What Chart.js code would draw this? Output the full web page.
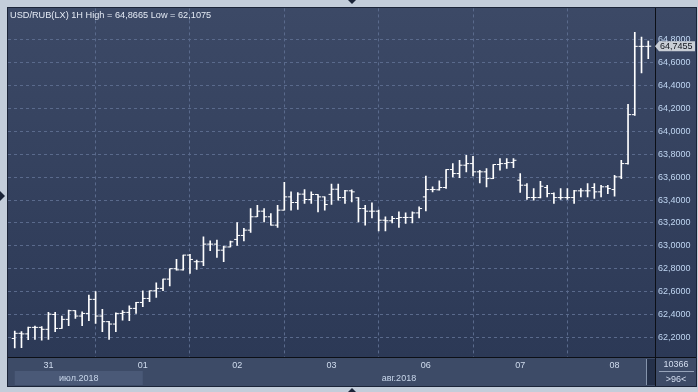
<!DOCTYPE html>
<html><head><meta charset="utf-8">
<script src="https://cdn.jsdelivr.net/npm/chart.js@4.4.1/dist/chart.umd.min.js"></script>
<style>html,body{margin:0;padding:0;background:#c3cdda;overflow:hidden}canvas{display:block}</style>
</head><body>
<canvas id="c" width="698" height="392"></canvas>
<script>
const titleText = 'USD/RUB(LX) 1H High = 64,8665 Low = 62,1075';
const opens = [62.19,62.235,62.23,62.287,62.287,62.27,62.40,62.278,62.357,62.433,
62.386,62.409,62.532,62.386,62.337,62.316,62.409,62.418,62.453,62.505,
62.54,62.607,62.628,62.709,62.80,62.79,62.919,62.861,62.861,63.015,
63.015,62.962,62.99,63.056,63.091,63.137,63.254,63.303,63.254,63.181,
63.312,63.428,63.379,63.452,63.405,63.449,63.428,63.45,63.495,63.422,
63.481,63.42,63.326,63.303,63.303,63.224,63.219,63.239,63.248,63.248,
63.288,63.428,63.492,63.49,63.51,63.667,63.632,63.705,63.719,63.647,
63.647,63.588,63.711,63.719,63.728,63.574,63.53,63.422,63.422,63.51,
63.457,63.422,63.422,63.422,63.481,63.481,63.51,63.472,63.516,63.492,
63.603,63.719,64.147,64.744,64.744];
const highs = [62.255,62.25,62.29,62.299,62.293,62.418,62.418,62.386,62.438,62.433,
62.424,62.569,62.599,62.444,62.34,62.415,62.433,62.476,62.505,62.607,
62.607,62.677,62.709,62.80,62.881,62.919,62.925,62.875,63.079,63.044,
63.05,62.997,63.041,63.204,63.152,63.326,63.355,63.326,63.283,63.355,
63.556,63.472,63.466,63.492,63.472,63.449,63.428,63.539,63.539,63.486,
63.49,63.422,63.355,63.376,63.312,63.254,63.259,63.297,63.288,63.297,
63.341,63.609,63.516,63.568,63.667,63.719,63.748,63.792,63.783,63.661,
63.676,63.711,63.763,63.763,63.763,63.632,63.545,63.501,63.565,63.53,
63.463,63.501,63.501,63.486,63.501,63.545,63.545,63.53,63.53,63.617,
63.748,64.238,64.8665,64.826,64.791];
const lows = [62.1075,62.11,62.18,62.182,62.176,62.182,62.249,62.278,62.302,62.366,
62.302,62.345,62.322,62.249,62.182,62.249,62.351,62.345,62.409,62.468,
62.511,62.549,62.607,62.65,62.788,62.788,62.759,62.794,62.826,62.957,
62.898,62.861,62.99,63.003,63.044,63.117,63.254,63.21,63.181,63.16,
63.312,63.312,63.318,63.37,63.37,63.297,63.312,63.361,63.399,63.37,
63.385,63.21,63.181,63.245,63.131,63.131,63.201,63.16,63.195,63.201,
63.245,63.306,63.472,63.486,63.501,63.603,63.597,63.647,63.612,63.55,
63.516,63.588,63.661,63.676,63.684,63.466,63.405,63.399,63.42,63.428,
63.37,63.405,63.405,63.37,63.428,63.428,63.414,63.428,63.457,63.434,
63.588,63.714,64.141,64.511,64.636];
const closes = [62.235,62.23,62.287,62.287,62.27,62.403,62.278,62.357,62.433,62.386,
62.409,62.532,62.386,62.337,62.316,62.409,62.418,62.453,62.505,62.54,
62.607,62.628,62.709,62.80,62.79,62.919,62.881,62.861,63.015,63.015,
62.962,62.99,63.035,63.091,63.137,63.254,63.303,63.254,63.181,63.312,
63.428,63.379,63.452,63.405,63.449,63.428,63.361,63.495,63.422,63.481,
63.472,63.326,63.303,63.303,63.224,63.219,63.239,63.248,63.248,63.288,
63.326,63.492,63.492,63.51,63.667,63.632,63.705,63.719,63.647,63.647,
63.588,63.711,63.719,63.728,63.748,63.53,63.422,63.422,63.521,63.457,
63.422,63.422,63.422,63.481,63.481,63.481,63.472,63.516,63.501,63.603,
63.719,64.147,64.744,64.744,64.7455];
const dayStarts = [5,19,33,47,61,75,89];
const dayLabels = ['31','01','02','03','06','07','08'];
const yTicks = [62.2,62.4,62.6,62.8,63.0,63.2,63.4,63.6,63.8,64.0,64.2,64.4,64.6,64.8];
const monthLabels = ['июл.2018','авг.2018'];
const monthStarts = [0,19];
const barCountText = '10366';
const visibleText = '>96<';

const FONT = '"Liberation Sans", Arial, sans-serif';
const idx = opens.map((_, i) => i);

const decor = {
  id: 'decor',
  beforeDraw(chart) {
    const c = chart.ctx;
    c.save();
    c.fillStyle = '#c3cdda';
    c.fillRect(0, 0, 698, 392);
    c.fillStyle = '#1b2438';
    c.fillRect(7, 7, 690, 380);
    const g = c.createLinearGradient(0, 8, 0, 357);
    g.addColorStop(0, '#3c4966');
    g.addColorStop(1, '#2c3956');
    c.fillStyle = g;
    c.fillRect(8, 8, 688, 349);
    c.fillStyle = '#3d4b67';
    c.fillRect(8, 358, 688, 28);
    const xs = chart.scales.x;
    const a = xs.getPixelForValue(monthStarts[0]);
    const b = xs.getPixelForValue(monthStarts[1]);
    c.fillStyle = '#4a5977';
    c.fillRect(a, 371, b - a, 14);
    c.restore();
  },
  afterDraw(chart) {
    const c = chart.ctx;
    const xs = chart.scales.x, ys = chart.scales.y;
    c.save();
    // frame lines
    c.fillStyle = '#0c0f16';
    c.fillRect(8, 357, 688, 1);
    c.fillRect(655, 8, 1, 378);
    // scroll strip
    c.fillStyle = '#8594ac';
    c.fillRect(646, 359, 1, 26);
    c.fillStyle = '#25314a';
    c.fillRect(647, 359, 8, 26);
    // title
    c.fillStyle = '#e4eaf4';
    c.font = '9.2px ' + FONT;
    c.textBaseline = 'middle';
    c.textAlign = 'left';
    c.fillText(titleText, 10, 15);
    // month labels
    c.fillStyle = '#c8d6ea';
    c.font = '9px ' + FONT;
    c.textAlign = 'center';
    const m0 = xs.getPixelForValue(monthStarts[0]);
    const m1 = xs.getPixelForValue(monthStarts[1]);
    c.fillText(monthLabels[0], (m0 + m1) / 2, 378.5);
    c.fillText(monthLabels[1], (m1 + 655) / 2, 378.5);
    // right bottom box
    c.fillStyle = '#d4def0';
    c.fillText(barCountText, 676, 364.5);
    c.fillText(visibleText, 676, 379.5);
    c.fillStyle = '#97a4ba';
    c.fillRect(659, 371, 35, 1);
    // price label
    const last = closes[closes.length - 1];
    const py = ys.getPixelForValue(last);
    c.fillStyle = '#c9ced6';
    c.beginPath();
    c.moveTo(655, py);
    c.lineTo(659, py - 5);
    c.lineTo(695, py - 5);
    c.lineTo(695, py + 5);
    c.lineTo(659, py + 5);
    c.closePath();
    c.fill();
    c.fillStyle = '#10141c';
    c.textAlign = 'left';
    c.fillText(last.toFixed(4).replace('.', ','), 660, py + 0.5);
    // triangles
    c.fillStyle = '#1b2438';
    c.beginPath(); c.moveTo(348, 0); c.lineTo(356, 0); c.lineTo(352, 4); c.closePath(); c.fill();
    c.beginPath(); c.moveTo(348, 392); c.lineTo(356, 392); c.lineTo(352, 388); c.closePath(); c.fill();
    c.beginPath(); c.moveTo(0, 191); c.lineTo(5, 196); c.lineTo(0, 201); c.closePath(); c.fill();
    c.restore();
  }
};

new Chart(document.getElementById('c'), {
  type: 'bar',
  data: {
    datasets: [
      { type: 'bar', data: idx.map(i => ({ x: i, y: [lows[i], highs[i]] })),
        backgroundColor: '#ffffff', borderWidth: 0, barThickness: 1, order: 3 },
      { type: 'scatter', data: idx.map(i => ({ x: i - 0.22, y: opens[i] })),
        pointStyle: 'line', pointRadius: 1.5, borderColor: '#ffffff', borderWidth: 1, showLine: false, order: 1 },
      { type: 'scatter', data: idx.map(i => ({ x: i + 0.22, y: closes[i] })),
        pointStyle: 'line', pointRadius: 1.5, borderColor: '#ffffff', borderWidth: 1, showLine: false, order: 2 }
    ]
  },
  options: {
    responsive: false,
    animation: false,
    events: [],
    layout: { padding: { left: 8, top: 8, right: 1, bottom: 6 } },
    plugins: { legend: { display: false }, tooltip: { enabled: false }, title: { display: false } },
    scales: {
      x: {
        type: 'linear', min: -1, max: 95, offset: false, position: 'bottom',
        afterBuildTicks: s => { s.ticks = dayStarts.map(v => ({ value: v })); },
        afterFit: s => { s.height = 29; },
        ticks: { autoSkip: false, maxRotation: 0, color: '#d0dcee', padding: 3,
                 font: { family: FONT, size: 9 },
                 callback: v => dayLabels[dayStarts.indexOf(v)] },
        grid: { color: '#5a6a8c', drawTicks: false, lineWidth: 1 },
        border: { display: false, dash: [3, 3] }
      },
      y: {
        type: 'linear', position: 'right', min: 62.028, max: 65.076,
        afterBuildTicks: s => { s.ticks = yTicks.map(v => ({ value: v })); },
        afterFit: s => { s.width = 42; },
        ticks: { color: '#c0d6f2', padding: 3, font: { family: FONT, size: 9 },
                 callback: v => v.toFixed(4).replace('.', ',') },
        grid: { color: '#5a6a8c', drawTicks: false, lineWidth: 1 },
        border: { display: false, dash: [3, 3] }
      }
    }
  },
  plugins: [decor]
});
</script>
</body></html>
